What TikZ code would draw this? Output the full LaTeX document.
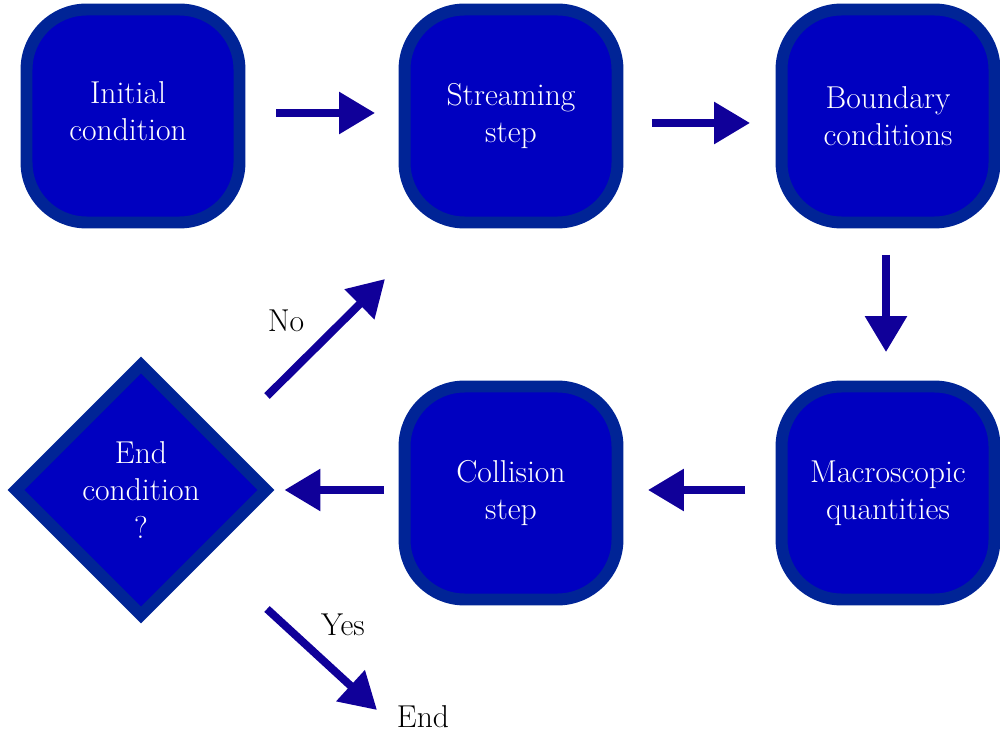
\documentclass[tikz,border=0pt]{standalone}
\usetikzlibrary{arrows.meta,shapes.geometric}
\definecolor{boxborder}{RGB}{0,36,150}
\definecolor{boxfill}{RGB}{0,0,192}
\definecolor{arrcol}{RGB}{16,0,153}
\tikzset{
  x=0.02cm, y=-0.02cm,
  txt/.style={font=\fontsize{18}{21.3}\selectfont, align=center},
  stepbox/.style={txt, draw=boxborder, fill=boxfill, text=white, line width=6.8pt,
    rounded corners=1.2cm, minimum width=4.26cm, minimum height=4.26cm, inner sep=0pt},
  decbox/.style={txt, diamond, draw=boxborder, fill=boxfill, text=white, line width=6.8pt,
    minimum width=5.1cm, minimum height=5.1cm, inner sep=0pt, aspect=1},
  arr/.style={draw=arrcol, line width=4.5pt, -{Triangle[length=20.5pt,width=23pt]}},
  lbl/.style={txt, text=black}
}
\begin{document}
\begin{tikzpicture}
\useasboundingbox (0,0) rectangle (1000,736);
\node[stepbox] (init) at (133,116) {};
\node[txt, text=white] (inittxt) at (128,111) {Initial\\condition};
\node[stepbox] (stream) at (511,116) {Streaming\\step};
\node[stepbox] (bound) at (888,116) {Boundary\\conditions};
\node[stepbox] (macro) at (888,493) {Macroscopic\\quantities};
\node[stepbox] (coll) at (511,493) {Collision\\step};
\node[decbox] (dec) at (141,490) {End\\condition\\?};
\draw[arr, shorten <=0.62cm, shorten >=0.47cm] ([yshift=0.06cm]init.east) -- ([yshift=0.06cm]stream.west);
\draw[arr, shorten <=0.57cm, shorten >=0.51cm] ([yshift=-0.14cm]stream.east) -- ([yshift=-0.14cm]bound.west);
\draw[arr, shorten <=0.53cm, shorten >=0.57cm] ([xshift=-0.04cm]bound.south) -- ([xshift=-0.04cm]macro.north);
\draw[arr, shorten <=0.61cm, shorten >=0.49cm] ([yshift=0.06cm]macro.west) -- ([yshift=0.06cm]coll.east);
\draw[arr, shorten <=0.29cm, shorten >=0.2cm] (coll.west |- dec.east) -- (dec.east);
\coordinate (nostart) at (267,396);
\coordinate (noend) at (385,279);
\draw[arr] (nostart) -- (noend);
\node[lbl] (nolbl) at (286,321) {No};
\coordinate (yesstart) at (267,609);
\coordinate (yesend) at (377,710);
\draw[arr] (yesstart) -- (yesend);
\node[lbl] (yeslbl) at (343,625) {Yes};
\node[lbl] (endlbl) at (423,717) {End};
\end{tikzpicture}
\end{document}
